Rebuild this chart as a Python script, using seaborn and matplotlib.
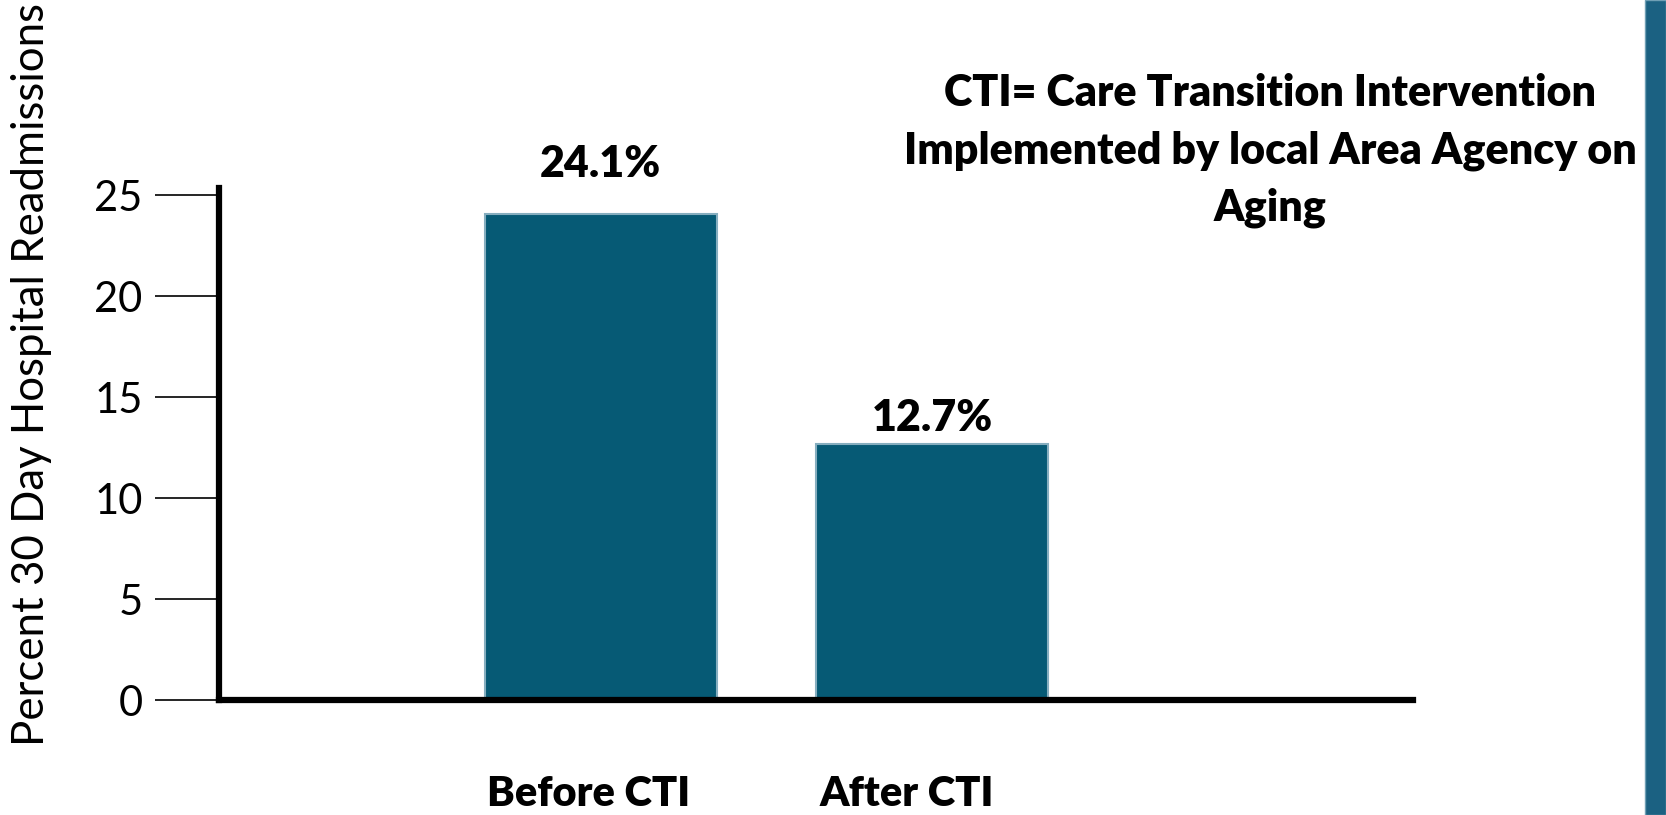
import matplotlib
matplotlib.use("Agg")
import matplotlib.pyplot as plt
import matplotlib.transforms as mtransforms
import seaborn as sns
import pandas as pd
from matplotlib.patches import Rectangle

# data
categories = ["Before CTI", "After CTI"]
readmit_pct = [24.1, 12.7]
value_labels = ["24.1%", "12.7%"]
y_ticks = [0, 5, 10, 15, 20, 25]
note_text = "CTI= Care Transition Intervention\nImplemented by local Area Agency on\nAging"


def main():
    sns.set_style("white")
    plt.rcParams["font.family"] = ["Lato", "DejaVu Sans"]
    plt.rcParams["text.color"] = "black"
    plt.rcParams["xtick.color"] = "black"
    plt.rcParams["ytick.color"] = "black"

    df = pd.DataFrame({"phase": categories, "pct": readmit_pct})

    fig = plt.figure(figsize=(16.66, 8.15), dpi=100)
    ax = fig.add_axes([0.1315, 0.141, 0.7165, 0.628])

    sns.barplot(data=df, x="phase", y="pct", color="#065a75", saturation=1,
                width=0.70, edgecolor="#86aebf", linewidth=1.5, ax=ax)

    ax.set_xlim(-1.151, 2.449)
    ax.set_ylim(0, 25.35)
    ax.set_yticks(y_ticks)
    ax.set_yticklabels([str(t) for t in y_ticks], fontsize=30)
    ax.tick_params(axis="y", direction="out", length=46, width=1.2,
                   color="black", pad=9, left=True)
    ax.tick_params(axis="x", length=0, pad=54)
    # category labels sit a little left of the bar centres in the original
    shifts = [-12, -26]
    for lbl, dx in zip(ax.get_xticklabels(), shifts):
        lbl.set_fontsize(30)
        lbl.set_fontweight("heavy")
        lbl.set_transform(lbl.get_transform() +
                          mtransforms.ScaledTranslation(dx / 100, 0, fig.dpi_scale_trans))

    sns.despine(ax=ax)
    for side in ["left", "bottom"]:
        ax.spines[side].set_linewidth(4.5)
        ax.spines[side].set_color("black")

    ax.set_xlabel("")
    ax.set_ylabel("")
    fig.text(0.019, 0.54, "Percent 30 Day Hospital Readmissions", rotation=90,
             fontsize=31.5, ha="center", va="center")

    # value labels above bars (gaps differ in the original)
    gaps = [21, 4]
    for i, (v, txt, g) in enumerate(zip(readmit_pct, value_labels, gaps)):
        ax.annotate(txt, (i, v), xytext=(0, g), textcoords="offset points",
                    ha="center", va="bottom", fontsize=31, fontweight="heavy")

    fig.text(0.7625, 0.815, note_text, ha="center", va="center", fontsize=31,
             fontweight="heavy", linespacing=1.52)

    # stripe on right edge
    fig.patches.append(Rectangle((0.9875, 0), 0.0125, 1, transform=fig.transFigure,
                                 facecolor="#1b6182", edgecolor="#6f9fb5",
                                 linewidth=1, zorder=0))

    fig.savefig("out.png", dpi=100, facecolor="white")


if __name__ == '__main__':
    main()
